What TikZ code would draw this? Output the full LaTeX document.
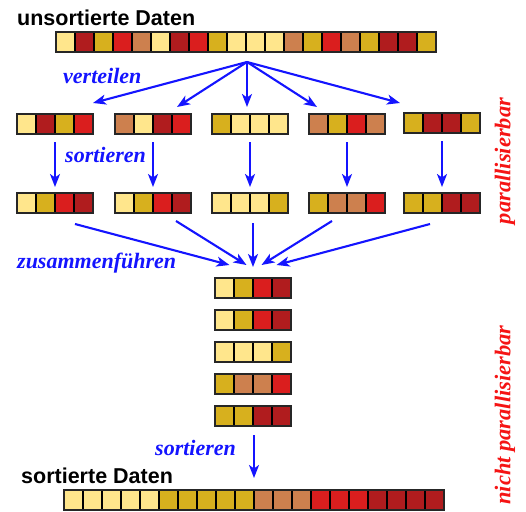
\documentclass[tikz,border=0pt]{standalone}
\usepackage{fontspec}
\setmainfont{Liberation Serif}
\newfontfamily\titlefont{Liberation Sans}
\usepackage{tikz}
\usetikzlibrary{arrows.meta,calc}
\definecolor{pale}{RGB}{255,230,140}
\definecolor{gold}{RGB}{215,176,30}
\definecolor{clay}{RGB}{205,128,78}
\definecolor{scarlet}{RGB}{218,30,30}
\definecolor{wine}{RGB}{176,28,30}
\definecolor{flowblue}{RGB}{20,20,255}
\definecolor{notered}{RGB}{245,20,20}
% name, x, y, number of cells, colours
\newcommand{\datarow}[5]{%
	\node[frame, minimum width={#4*19pt}] (#1) at (#2,#3) {};
	\foreach \col [count=\k] in {#5}
		\node[cell, fill=\col] (#1-\k) at ({#2+(\k-1)*19},#3) {};
	\draw[edge] (#1.north west) rectangle (#1.south east);
}

\begin{document}
\begin{tikzpicture}[
		x=1pt, y=-1pt,
		>={Stealth[length=13pt,width=10pt,inset=3.5pt]},
		frame/.style={anchor=north west, minimum height=20pt, inner sep=0pt, outer sep=0pt},
		cell/.style={frame, draw=black, line width=1.3pt, minimum width=19pt},
		edge/.style={draw=black!85, line width=2.2pt},
		flow/.style={->, draw=flowblue, line width=2.1pt},
		title/.style={font=\titlefont\bfseries\fontsize{21.5}{24}\selectfont, anchor=base west, inner sep=0pt},
		lab/.style={text=flowblue, font=\bfseries\itshape\fontsize{22}{24}\selectfont, anchor=base west, inner sep=0pt},
		note/.style={text=notered, font=\bfseries\itshape\fontsize{22.5}{24}\selectfont, rotate=90, inner sep=0pt}
		]
		\useasboundingbox (0,0) rectangle (526,511);
		
		% Titles
		\node[title] (tin) at (17,26) {unsortierte Daten};
		\node[title] (tout) at (21,483) {sortierte Daten};
		
		% -------------------------
		% Data rows
		% -------------------------
		\datarow{top}{56}{32}{20}{pale,wine,gold,scarlet,clay,pale,wine,scarlet,gold,pale,pale,pale,clay,gold,scarlet,clay,gold,wine,wine,gold}
		
		\datarow{u1}{17}{114}{4}{pale,wine,gold,scarlet}
		\datarow{u2}{115}{114}{4}{clay,pale,wine,scarlet}
		\datarow{u3}{212}{114}{4}{gold,pale,pale,pale}
		\datarow{u4}{309}{114}{4}{clay,gold,scarlet,clay}
		\datarow{u5}{404}{113}{4}{gold,wine,wine,gold}
		
		\datarow{s1}{17}{193}{4}{pale,gold,scarlet,wine}
		\datarow{s2}{115}{193}{4}{pale,gold,scarlet,wine}
		\datarow{s3}{212}{193}{4}{pale,pale,pale,gold}
		\datarow{s4}{309}{193}{4}{gold,clay,clay,scarlet}
		\datarow{s5}{404}{193}{4}{gold,gold,wine,wine}
		
		\datarow{m1}{215}{278}{4}{pale,gold,scarlet,wine}
		\datarow{m2}{215}{310}{4}{pale,gold,scarlet,wine}
		\datarow{m3}{215}{342}{4}{pale,pale,pale,gold}
		\datarow{m4}{215}{374}{4}{gold,clay,clay,scarlet}
		\datarow{m5}{215}{406}{4}{gold,gold,wine,wine}
		
		\datarow{out}{64}{490}{20}{pale,pale,pale,pale,pale,gold,gold,gold,gold,gold,clay,clay,clay,scarlet,scarlet,scarlet,wine,wine,wine,wine}
		
		% -------------------------
		% Labels
		% -------------------------
		\node[lab] (l1) at (63,83) {verteilen};
		\node[lab] (l2) at (65,162) {sortieren};
		\node[lab] (l3) at (17,268) {zusammenführen};
		\node[lab] (l4) at (155,455) {sortieren};
		
		\node[note] (n1) at (505,161) {parallisierbar};
		\node[note] (n2) at (505,415) {nicht parallisierbar};
		
		% -------------------------
		% Arrows
		% -------------------------
		\coordinate (split) at ($(top.south)+(1,10)$);
		\draw[flow] (split) -- ($(u1.north east)+(0,-11)$);
		\draw[flow] (split) -- ($(u2.north)+(24,-7)$);
		\draw[flow] (split) -- ($(split |- u3.north)+(0,-7)$);
		\draw[flow] (split) -- ($(u4.north west)+(8,-7)$);
		\draw[flow] (split) -- ($(u5.north west)+(-4,-10)$);
		
		\foreach \g in {1,...,5}
			\draw[flow] ($(u\g.south)+(0,8)$) -- ($(s\g.north)+(0,-6)$);
		
		\draw[flow] ($(s1.south)+(20,11)$) -- ($(m1.north)+(-23.5,-13)$);
		\draw[flow] ($(s2.south)+(23,8)$) -- ($(m1.north)+(-6.5,-13)$);
		\draw[flow] ($(m1.north |- s3.south)+(0,10)$) -- ($(m1.north)+(0,-11)$);
		\draw[flow] ($(s4.south)+(-15,8)$) -- ($(m1.north)+(8.5,-13)$);
		\draw[flow] ($(s5.south)+(-12,11)$) -- ($(m1.north)+(23.5,-13)$);
		
		\draw[flow] ($(m5.south)+(1,9)$) -- ($(m5.south |- out.north)+(1,-12)$);
		
	\end{tikzpicture}
\end{document}
